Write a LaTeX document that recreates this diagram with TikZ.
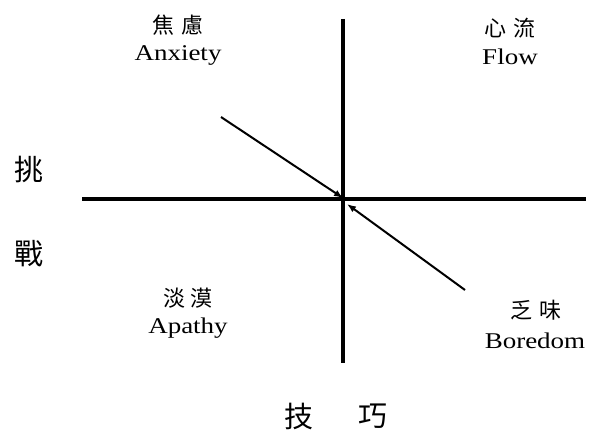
\documentclass[tikz,border=0pt]{standalone}
\usepackage{fontspec}
\setmainfont{Liberation Serif}[FakeStretch=1.2]
\newfontfamily\cjk{Noto Sans CJK TC}
\usetikzlibrary{arrows.meta}
\tikzset{
  axis/.style={line width=3.8pt, line cap=butt},
  trend/.style={line width=2pt, -{Latex[length=9pt,width=7pt]}},
  en/.style={font=\fontsize{22.5}{24}\selectfont, inner sep=0pt},
  zh/.style={font=\cjk\fontsize{22}{24}\selectfont, inner sep=0pt},
  zhbig/.style={font=\cjk\fontsize{29}{31}\selectfont, inner sep=0pt}
}
\begin{document}
\begin{tikzpicture}[x=1pt,y=-1pt]
\useasboundingbox (0,0) rectangle (590,436);
\coordinate (hl) at (82,199);
\coordinate (hr) at (586,199);
\coordinate (vt) at (343,19);
\coordinate (vb) at (343,363);
\draw[axis] (hl) -- (hr);
\draw[axis] (vt) -- (vb);
\coordinate (a1s) at (221,117);
\coordinate (a1e) at (343,198);
\coordinate (a2s) at (465,290);
\coordinate (a2e) at (347,204);
\draw[trend] (a1s) -- (a1e);
\draw[trend] (a2s) -- (a2e);
\node[zh] (anxzh) at (178,25) {焦\hspace{8pt}慮};
\node[en] (anxen) at (178,55) {Anxiety};
\node[zh] (flowzh) at (510,28) {心\hspace{8pt}流};
\node[en] (flowen) at (510,57) {Flow};
\node[zh] (apazh) at (188,298) {淡\hspace{6pt}漠};
\node[en] (apaen) at (188,328) {Apathy};
\node[zh] (borzh) at (536,310) {乏\hspace{8pt}味};
\node[en] (boren) at (535,341) {Boredom};
\node[zhbig] (tiao) at (29,170) {挑};
\node[zhbig] (zhan) at (29,254) {戰};
\node[zhbig] (ji) at (299,416) {技};
\node[zhbig] (qiao) at (373,416) {巧};
\end{tikzpicture}
\end{document}
